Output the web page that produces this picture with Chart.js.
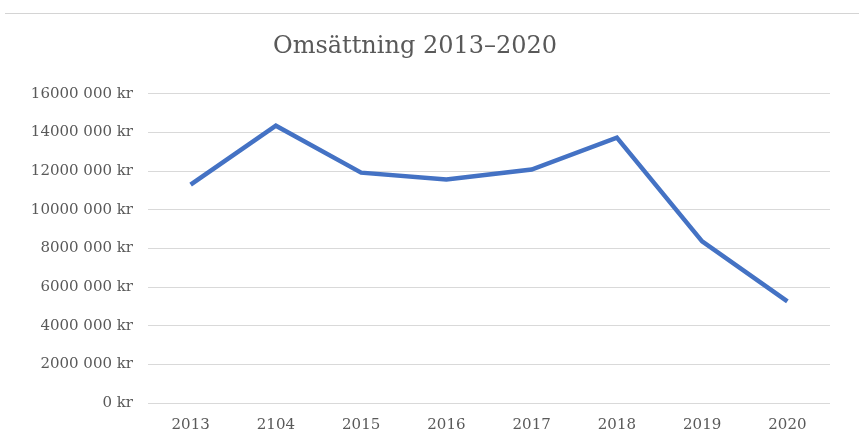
<!DOCTYPE html>
<html>
<head>
<meta charset="utf-8">
<script src="https://cdn.jsdelivr.net/npm/chart.js@4"></script>
<style>
  html, body { margin: 0; padding: 0; background: #fff; overflow: hidden; }
  #wrap { position: relative; width: 859px; height: 453px; }
  #topline { position: absolute; left: 5px; right: 0; top: 13px; border-top: 1px solid #d4d4d4; }
</style>
</head>
<body>
<div id="wrap">
  <div id="topline"></div>
  <canvas id="chart" width="859" height="453"></canvas>
</div>
<script>
// data
const years = ['2013', '2104', '2015', '2016', '2017', '2018', '2019', '2020'];
const revenue = [11300000, 14350000, 11920000, 11560000, 12080000, 13730000, 8360000, 5260000];
const yMax = 16000000;
const yStep = 2000000;

// "16000 000 kr" style labels
function formatKr(v) {
  if (v === 0) return '0 kr';
  const thousands = Math.floor(v / 1000);
  const rest = String(v % 1000).padStart(3, '0');
  return thousands + ' ' + rest + ' kr';
}

const labelFont = { family: 'DejaVu Serif', size: 15 };
const textColor = '#595959';

new Chart(document.getElementById('chart'), {
  type: 'line',
  data: {
    labels: years,
    datasets: [{
      label: 'Omsättning',
      data: revenue,
      borderColor: '#4472c4',
      borderWidth: 4.5,
      pointRadius: 0,
      tension: 0,
      fill: false
    }]
  },
  options: {
    responsive: false,
    animation: false,
    layout: { padding: { top: 26, right: 29, bottom: 6, left: 0 } },
    plugins: {
      legend: { display: false },
      tooltip: { enabled: false },
      title: {
        display: true,
        text: 'Omsättning 2013–2020',
        color: textColor,
        font: { family: 'DejaVu Serif', size: 24, weight: 'normal' },
        padding: { top: 6, bottom: 33 }
      }
    },
    scales: {
      x: {
        offset: true,
        grid: { display: false, drawTicks: false },
        border: { display: false },
        ticks: { color: textColor, font: labelFont, padding: 13, maxRotation: 0 }
      },
      y: {
        min: 0,
        max: yMax,
        afterFit: (scale) => { scale.width = 148; },
        grid: { color: '#d9d9d9', lineWidth: 1, drawTicks: false },
        border: { display: false },
        ticks: {
          stepSize: yStep,
          color: textColor,
          font: labelFont,
          padding: 15,
          callback: (v) => formatKr(v)
        }
      }
    }
  }
});
</script>
</body>
</html>
